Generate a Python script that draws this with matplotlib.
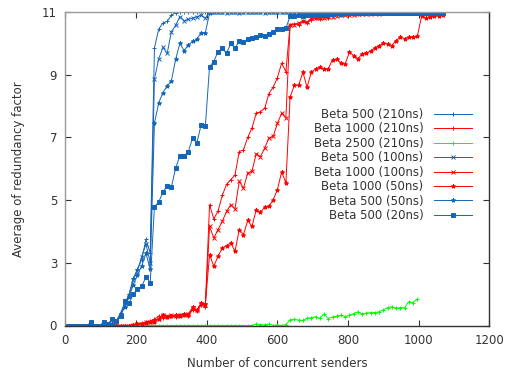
import matplotlib
matplotlib.use("Agg")
import matplotlib.pyplot as plt
import numpy as np

# x positions (number of concurrent senders)
x_main = list(range(0, 1069, 12))    # 0..1068
x_green = list(range(0, 997, 12))    # 0..996

b500_210 = [1, 1, 1, 1, 1, 1, 1, 1, 1, 1, 1, 1.05, 1.15, 1.4, 1.7, 2.0, 2.5, 2.8, 3.1, 3.75,
            3.3, 9.85, 10.45, 10.65, 10.7, 10.9, 10.98, 11, 11, 11, 11, 11, 11, 11, 11, 11, 11, 11, 11, 11,
            11, 11, 11, 11, 11, 11, 11, 11, 11, 11, 11, 11, 11, 11, 11, 11, 11, 11, 11, 11,
            11, 11, 11, 11, 11, 11, 11, 11, 11, 11, 11, 11, 11, 11, 11, 11, 11, 11, 11, 11,
            11, 11, 11, 11, 11, 11, 11, 11, 11, 11]
r1000_210 = [1, 1, 1, 1, 1, 1, 1, 1, 1, 1, 1, 1, 1, 1, 1, 1, 1.02, 1.05, 1.08, 1.1,
             1.14, 1.2, 1.3, 1.25, 1.28, 1.3, 1.28, 1.32, 1.35, 1.3, 1.5, 1.45, 1.65, 1.6, 4.85, 4.4, 4.65, 5.15, 5.5, 5.65,
             5.8, 6.55, 6.6, 7.0, 7.3, 7.77, 7.82, 7.93, 8.4, 8.6, 8.9, 9.37, 9.1, 10.6, 10.62, 10.6, 10.7, 10.65, 10.75, 10.8,
             10.78, 10.85, 10.82, 10.88, 10.9, 10.92, 10.95, 10.95, 10.97, 10.95, 10.97, 10.98, 10.97, 10.98, 11, 10.98, 11, 11, 11, 11,
             11, 11, 11, 11, 11, 11, 11, 11, 11, 11]
g2500_210 = [1, 1, 1, 1, 1, 1, 1, 1, 1, 1, 1, 1, 1, 1, 1, 1, 1, 1, 1, 1,
             1, 1, 1, 1, 1, 1, 1, 1, 1, 1, 1, 1, 1, 1, 1, 1, 1, 1, 1, 1,
             1, 1, 1, 1, 1, 1.05, 1.03, 1.02, 1.05, 1.0, 1.02, 1.0, 1.03, 1.18, 1.2, 1.17, 1.16, 1.23, 1.25, 1.28,
             1.23, 1.37, 1.22, 1.27, 1.3, 1.33, 1.28, 1.33, 1.38, 1.44, 1.36, 1.4, 1.41, 1.41, 1.44, 1.5, 1.57, 1.6, 1.55, 1.57,
             1.57, 1.76, 1.73, 1.84]
b500_100 = [1, 1, 1, 1, 1, 1, 1, 1, 1, 1, 1, 1.05, 1.1, 1.35, 1.65, 1.95, 2.45, 2.75, 3.2, 3.6,
            3.0, 8.86, 9.5, 9.87, 9.68, 10.37, 10.58, 10.85, 10.72, 10.77, 10.8, 10.85, 10.9, 10.8, 11, 11, 11, 11, 10.98, 11,
            11, 10.98, 11, 11, 11, 11, 11, 10.98, 11, 11, 11, 11, 11, 11, 11, 11, 11, 11, 11, 11,
            11, 11, 11, 11, 11, 11, 11, 11, 11, 11, 11, 11, 11, 11, 11, 11, 11, 11, 11, 11,
            11, 11, 11, 11, 11, 11, 11, 11, 11, 11]
r1000_100 = [1, 1, 1, 1, 1, 1, 1, 1, 1, 1, 1, 1, 1, 1, 1, 1, 1.03, 1.06, 1.05, 1.1,
             1.12, 1.15, 1.22, 1.35, 1.3, 1.32, 1.3, 1.35, 1.33, 1.38, 1.55, 1.5, 1.7, 1.65, 4.16, 3.79, 4.06, 4.32, 4.64, 4.85,
             4.72, 5.6, 5.38, 5.86, 5.92, 6.48, 6.39, 6.66, 6.98, 7.03, 7.45, 7.77, 7.62, 10.6, 10.6, 10.65, 10.7, 10.68, 10.8, 10.8,
             10.82, 10.8, 10.85, 10.85, 10.88, 10.9, 10.9, 10.92, 10.9, 10.93, 10.95, 10.93, 10.95, 10.96, 10.95, 10.97, 10.96, 10.98, 10.97, 10.98,
             10.98, 10.97, 10.98, 11, 10.98, 11, 11, 11, 11, 11]
r1000_50 = [1, 1, 1, 1, 1, 1, 1, 1, 1, 1, 1, 1, 1, 1, 1, 1, 1.02, 1.04, 1.05, 1.08,
            1.1, 1.12, 1.2, 1.35, 1.28, 1.3, 1.32, 1.3, 1.38, 1.35, 1.58, 1.48, 1.72, 1.67, 3.26, 2.89, 3.21, 3.47, 3.55, 3.63,
            3.37, 4.06, 3.9, 4.35, 4.16, 4.69, 4.61, 4.78, 4.8, 5.01, 5.33, 5.9, 5.55, 8.29, 8.66, 8.66, 9.08, 8.6, 9.08, 9.19,
            9.24, 9.17, 9.19, 9.48, 9.49, 9.37, 9.35, 9.72, 9.61, 9.51, 9.67, 9.7, 9.75, 9.86, 9.93, 10.0, 9.99, 9.93, 10.09, 10.2,
            10.15, 10.2, 10.2, 10.22, 10.86, 10.82, 10.85, 10.87, 10.88, 10.9]
b500_50 = [1, 1, 1, 1, 1, 1, 1, 1, 1, 1, 1, 1.05, 1.1, 1.3, 1.6, 1.9, 2.3, 2.6, 2.9, 3.3,
           2.8, 7.45, 8.1, 8.43, 8.64, 8.81, 9.49, 10.0, 9.77, 9.95, 10.06, 10.13, 10.34, 10.34, 10.96, 11, 11, 11, 11, 11,
           11, 11, 11, 11, 11, 11, 11, 11, 11, 11, 11, 11, 11, 11, 11, 11, 11, 11, 11, 11,
           11, 11, 11, 11, 11, 11, 11, 11, 11, 11, 11, 11, 11, 11, 11, 11, 11, 11, 11, 11,
           11, 11, 11, 11, 11, 11, 11, 11, 11, 11]
b500_20 = [1, 1, 1, 1, 1, 1, 1.1, 1, 1, 1.1, 1.05, 1.2, 1.15, 1.3, 1.77, 1.72, 1.99, 2.17, 2.25, 2.55,
           2.36, 4.78, 4.94, 5.25, 5.46, 5.42, 6.02, 6.41, 6.41, 6.55, 6.98, 6.82, 7.4, 7.35, 9.26, 9.42, 9.74, 9.84, 9.68, 10.0,
           9.84, 10.08, 10.03, 10.13, 10.16, 10.2, 10.27, 10.25, 10.3, 10.35, 10.45, 10.45, 10.48, 10.87, 10.88, 10.9, 10.88, 10.9, 10.92, 10.92,
           10.95, 10.95, 10.94, 10.95, 10.96, 10.95, 10.96, 10.97, 10.96, 10.97, 10.97, 10.98, 10.97, 10.98, 10.98, 10.98, 10.97, 10.98, 10.98, 10.98,
           10.98, 10.98, 10.98, 10.98, 10.98, 10.98, 10.98, 10.98, 10.98, 10.98]

labels = ["Beta 500 (210ns)", "Beta 1000 (210ns)", "Beta 2500 (210ns)", "Beta 500 (100ns)",
          "Beta 1000 (100ns)", "Beta 1000 (50ns)", "Beta 500 (50ns)", "Beta 500 (20ns)"]
yticks = [1, 3, 5, 7, 9, 11]
ytick_labels = ["0", "3", "5", "7", "9", "11"]
xticks = [0, 200, 400, 600, 800, 1000, 1200]

BLUE = "#1466b8"
RED = "#ff0000"
GREEN = "#00ff00"

series = [
    (x_main, b500_210, BLUE, "+", 3.5, "none"),
    (x_main, r1000_210, RED, "+", 3.5, "none"),
    (x_green, g2500_210, GREEN, "+", 3.5, "none"),
    (x_main, b500_100, BLUE, "x", 2.8, "none"),
    (x_main, r1000_100, RED, "x", 2.8, "none"),
    (x_main, r1000_50, RED, "*", 3.0, None),
    (x_main, b500_50, BLUE, "*", 3.0, None),
    (x_main, b500_20, BLUE, "s", 2.6, None),
]

fig = plt.figure(figsize=(5.16, 3.74), dpi=100)
ax = fig.add_axes([65.4 / 516, 1 - 325.5 / 374, (489.4 - 65.4) / 516, (325.5 - 12) / 374])

for (xs, ys, c, m, ms, mfc), lab in zip(series, labels):
    kw = dict(color=c, marker=m, markersize=ms, linewidth=0.7, markeredgewidth=0.7, label=lab)
    if mfc is None:
        kw["markerfacecolor"] = c
    ax.plot(xs, ys, **kw)

ax.set_xlim(0, 1200)
ax.set_ylim(1, 11)
ax.set_xticks(xticks)
ax.set_yticks(yticks)
ax.set_yticklabels(ytick_labels)
ax.tick_params(direction="in", length=4, width=0.8, top=True, right=True,
               labelsize=8.5, labelcolor="#333333", color="#333333", pad=6)
for s in ["left", "top"]:
    ax.spines[s].set_color("#999999")
for s in ["right", "bottom"]:
    ax.spines[s].set_color("#333333")
for s in ax.spines.values():
    s.set_linewidth(1.0)

ax.set_xlabel("Number of concurrent senders", fontsize=8.5, color="#333333", labelpad=7)
ax.set_ylabel("Average of redundancy factor", fontsize=8.5, color="#333333", labelpad=12)

leg = ax.legend(loc="upper right", bbox_to_anchor=(472 / 516, 1 - 108 / 374),
                bbox_transform=fig.transFigure, frameon=False, markerfirst=False,
                fontsize=8.5, handlelength=3.2, handletextpad=0.9, labelspacing=0.12,
                borderpad=0, borderaxespad=0, numpoints=1)
for t in leg.get_texts():
    t.set_color("#333333")

fig.savefig("out.png", dpi=100)
